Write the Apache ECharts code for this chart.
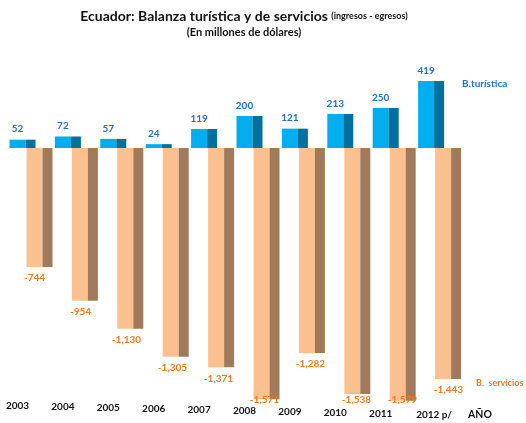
<!DOCTYPE html>
<html>
<head>
<meta charset="utf-8">
<script src="https://cdn.jsdelivr.net/npm/echarts@6/dist/echarts.min.js"></script>
<style>
  html, body { margin: 0; padding: 0; background: #fff; }
  #chart { width: 526px; height: 423px; }
</style>
</head>
<body>
<div id="chart"></div>
<script>
// Años y saldos (millones de USD)
const years = ['2003', '2004', '2005', '2006', '2007', '2008', '2009', '2010', '2011', '2012 p/'];
const turistica = [52, 72, 57, 24, 119, 200, 121, 213, 250, 419];
const servicios = [-744, -954, -1130, -1305, -1371, -1571, -1282, -1538, -1579, -1443];

const FONT = 'Lato, "Open Sans", sans-serif';
const BLUE_TXT = '#2272C8';
const ORANGE_TXT = '#F07A22';
const LABEL_FLOOR = 400; // las etiquetas inferiores no bajan del piso del gráfico

function fmt(v) {
  return v.toLocaleString('en-US');
}

// Barra con cara frontal y lateral oscura (efecto 3D)
function makeBar3D(front, side, offset, txtColor, labelShift) {
  return function (params, api) {
    const cat = api.value(0);
    const val = api.value(1);
    const p0 = api.coord([cat, 0]);
    const p1 = api.coord([cat, val]);
    const fw = 16, sw = 10;
    const x = p0[0] + offset;
    const yTop = Math.min(p0[1], p1[1]);
    const h = Math.abs(p1[1] - p0[1]);
    const labelY = val >= 0 ? p1[1] - 10.5 : Math.min(p1[1] + 11, LABEL_FLOOR);
    return {
      type: 'group',
      children: [
        { type: 'rect', shape: { x: x, y: yTop, width: fw, height: h }, style: { fill: front } },
        { type: 'rect', shape: { x: x + fw, y: yTop, width: sw, height: h }, style: { fill: side } },
        {
          type: 'text', z2: 10,
          style: {
            text: fmt(val), x: x + fw / 2 + labelShift * cat, y: labelY,
            align: 'center', verticalAlign: 'middle',
            fill: txtColor, font: 'bold 10px ' + FONT
          }
        }
      ]
    };
  };
}

// Estilos de etiqueta del eje con ligera inclinación por perspectiva
const rich = {};
years.forEach((y, i) => {
  rich['y' + i] = {
    fontFamily: FONT, fontWeight: 'bold', fontSize: 10, color: '#111',
    padding: [Math.round(i * 1.05), 0, 0, i === 9 ? 16 : 0]
  };
});

const chart = echarts.init(document.getElementById('chart'));
chart.setOption({
  animation: false,
  backgroundColor: '#fff',
  grid: { left: 17.5, width: 408.6, top: 68, bottom: 19 },
  xAxis: {
    type: 'category',
    data: years,
    boundaryGap: false,
    axisLine: { show: false, onZero: false },
    axisTick: { show: false },
    splitLine: { show: false },
    axisLabel: {
      margin: -3,
      interval: 0,
      formatter: (v, i) => '{y' + i + '|' + v + '}',
      rich: rich
    }
  },
  yAxis: {
    type: 'value', min: -1600, max: 500, show: false,
    splitLine: { show: false }
  },
  series: [
    {
      type: 'custom', name: 'B.turística',
      renderItem: makeBar3D('#00AEEF', '#00719E', -8, BLUE_TXT, 0),
      data: turistica.map((v, i) => [i, v]),
      clip: false, z: 3
    },
    {
      type: 'custom', name: 'B. servicios',
      renderItem: makeBar3D('#FAC08F', '#A07A5A', 9, ORANGE_TXT, 0.6),
      data: servicios.map((v, i) => [i, v]),
      clip: false, z: 2
    }
  ],
  graphic: [
    {
      type: 'text', x: 244, y: 9,
      style: {
        text: '{a|Ecuador: Balanza turística y de servicios} {b|(ingresos - egresos)}',
        align: 'center',
        rich: {
          a: { fontFamily: FONT, fontWeight: 'bold', fontSize: 14, fill: '#111' },
          b: { fontFamily: FONT, fontWeight: 'bold', fontSize: 9, fill: '#111' }
        }
      }
    },
    {
      type: 'text', x: 244, y: 32,
      style: {
        text: '(En millones de dólares)', align: 'center', verticalAlign: 'middle',
        font: 'bold 11px ' + FONT, fill: '#111'
      }
    },
    {
      type: 'text', x: 462, y: 84,
      style: { text: 'B.turística', verticalAlign: 'middle', font: 'bold 10px ' + FONT, fill: BLUE_TXT }
    },
    {
      type: 'text', x: 476, y: 383,
      style: { text: 'B.  servicios', verticalAlign: 'middle', font: 'bold 9px ' + FONT, fill: ORANGE_TXT }
    },
    {
      type: 'text', x: 468, y: 415,
      style: { text: 'AÑO', verticalAlign: 'middle', font: 'bold 10.5px ' + FONT, fill: '#111' }
    }
  ]
});
</script>
</body>
</html>
